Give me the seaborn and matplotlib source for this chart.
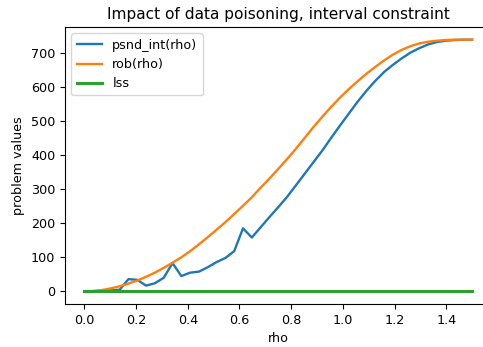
import numpy as np
import pandas as pd
import seaborn as sns
from matplotlib import pyplot as plt

# rho grid (45 points from 0 to 1.5)
rho = np.linspace(0, 1.5, 45)

psnd_int = [0, 1, 2, 3, 5, 36, 34, 17, 24, 40,
            83, 45, 55, 58, 71, 86, 98, 118, 185, 158,
            188, 218, 247, 277, 311, 345, 379, 413, 450, 486,
            521, 556, 588, 617, 643, 664, 683, 700, 713, 724,
            731, 735, 737, 738, 738]

rob = [0, 1, 4, 9, 15, 23, 32, 43, 55, 69,
       84, 100, 118, 138, 159, 181, 203, 227, 251, 276,
       304, 331, 359, 388, 418, 450, 482, 512, 541, 568,
       593, 616, 638, 658, 677, 694, 708, 719, 727, 732,
       735, 737, 738, 738, 738]

lss = [0] * 45

plt.rcParams['font.size'] = 9.2
plt.rcParams['axes.titlesize'] = 11.1

fig = plt.figure(figsize=(4.83, 3.47), dpi=100)
ax = fig.add_axes([0.1346, 0.1239, 0.883, 0.798])

sns.lineplot(x=rho, y=psnd_int, ax=ax, color="tab:blue", label="psnd_int(rho)", linewidth=1.7)
sns.lineplot(x=rho, y=rob, ax=ax, color="tab:orange", label="rob(rho)", linewidth=1.7)
sns.lineplot(x=rho, y=lss, ax=ax, color="tab:green", label="lss", linewidth=2.2)

ax.set_title("Impact of data poisoning, interval constraint")
ax.set_xlabel("rho")
ax.set_ylabel("problem values")
ax.legend(loc="upper left")

fig.savefig("out.png", dpi=100)
